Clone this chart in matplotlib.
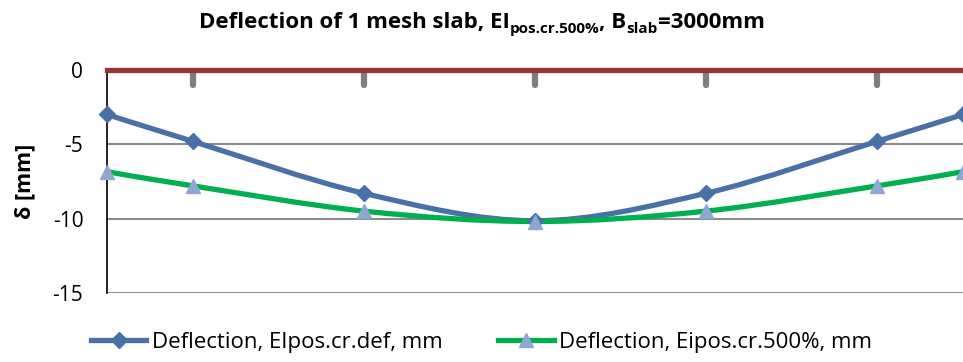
import numpy as np
import matplotlib.pyplot as plt
from matplotlib.path import Path
from matplotlib.patches import PathPatch
from matplotlib.lines import Line2D

plt.rcParams['font.family'] = ['Open Sans', 'DejaVu Sans']
plt.rcParams['axes.unicode_minus'] = False

# positions across the slab width, mm
x = [0, 300, 900, 1500, 2100, 2700, 3000]
defl_def = [-3.0, -4.8, -8.3, -10.15, -8.3, -4.8, -3.0]
defl_500 = [-6.85, -7.8, -9.5, -10.2, -9.5, -7.8, -6.85]
zero_line = [0, 0, 0, 0, 0, 0, 0]
support_x = [300, 900, 1500, 2100, 2700]
support_len = [-1.0, -1.0, -1.0, -1.0, -1.0]

label_def = "Deflection, EIpos.cr.def, mm"
label_500 = "Deflection, Eipos.cr.500%, mm"
# title pieces: (text, is_subscript)
title_parts = [("Deflection of 1 mesh slab, EI", False), ("pos.cr.500%", True),
               (", B", False), ("slab", True), ("=3000mm", False)]

BLUE = '#4a70a8'
GREEN = '#00b04f'
TRI = '#8fa6d2'
RED = '#963634'


def smooth_path(xs, ys):
    # excel-style smoothed line: cubic bezier through every point
    p = np.column_stack([xs, ys]).astype(float)
    verts = [p[0]]
    codes = [Path.MOVETO]
    n = len(p)
    for i in range(n - 1):
        p0 = p[i - 1] if i > 0 else p[i]
        p3 = p[i + 2] if i + 2 < n else p[i + 1]
        c1 = p[i] + (p[i + 1] - p0) / 6
        c2 = p[i + 1] - (p3 - p[i]) / 6
        verts += [c1, c2, p[i + 1]]
        codes += [Path.CURVE4] * 3
    return Path(verts, codes)


fig = plt.figure(figsize=(9.63, 3.62), dpi=100)
ax = fig.add_axes([0.111, 0.191, 0.889, 0.616])

ax.set_xlim(0, 3000)
ax.set_ylim(-15, 0)
ax.set_yticks([0, -5, -10, -15])
ax.set_xticks([])
ax.grid(axis='y', color='#8c8c8c', linewidth=1.5)
ax.set_axisbelow(True)
for s in ['top', 'right', 'bottom']:
    ax.spines[s].set_visible(False)
ax.spines['left'].set_color('black')
ax.spines['left'].set_linewidth(1.2)
ax.tick_params(axis='y', length=0, pad=17, labelsize=15)

ax.plot(x, zero_line, color=RED, linewidth=3.8, clip_on=False, zorder=5)
ax.vlines(support_x, 0, support_len, color='#7f7f7f', linewidth=4.5,
          capstyle='round', zorder=4)

ax.add_patch(PathPatch(smooth_path(x, defl_def), facecolor='none',
                       edgecolor=BLUE, linewidth=3.8, zorder=3, clip_on=False))
ax.add_patch(PathPatch(smooth_path(x, defl_500), facecolor='none',
                       edgecolor=GREEN, linewidth=3.8, zorder=3, clip_on=False))
ax.plot(x, defl_def, linestyle='none', marker='D', markersize=8,
        color=BLUE, zorder=6, clip_on=False)
ax.plot(x, defl_500, linestyle='none', marker='^', markersize=10,
        color=TRI, zorder=6, clip_on=False)

ax.set_ylabel('δ [mm]', fontsize=15.5, fontweight='bold', labelpad=12)

# title with real subscripts, laid out piece by piece
renderer = fig.canvas.get_renderer()
texts = []
for txt, sub in title_parts:
    t = fig.text(0, 0, txt, fontsize=11 if sub else 16, fontweight='bold',
                 ha='left', va='baseline', transform=None)
    texts.append((t, sub))
widths = [t.get_window_extent(renderer).width for t, _ in texts]
x0 = (fig.bbox.width - sum(widths)) / 2
base = fig.bbox.height - 28
for (t, sub), w in zip(texts, widths):
    t.set_position((x0, base - (5 if sub else 0)))
    x0 += w

handles = [
    Line2D([], [], color=BLUE, linewidth=3.8, marker='D', markersize=8),
    Line2D([], [], color=GREEN, linewidth=3.8, marker='^', markersize=10,
           markerfacecolor=TRI, markeredgecolor=TRI),
]
fig.legend(handles, [label_def, label_500], loc='center', ncol=2,
           bbox_to_anchor=(0.5, 0.055), frameon=False, fontsize=16,
           handlelength=2.5, handletextpad=0.25, columnspacing=2.5,
           borderaxespad=0)

fig.savefig('out.png', dpi=100)
